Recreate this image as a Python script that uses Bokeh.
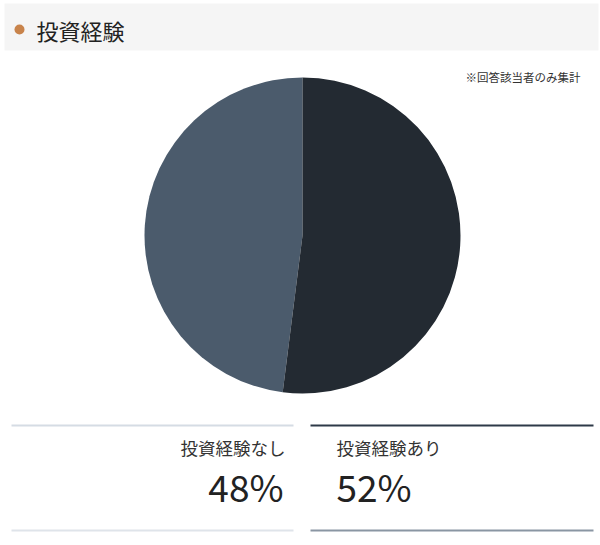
from bokeh.plotting import figure
from bokeh.models import ColumnDataSource, Range1d
from bokeh.core.properties import value
from bokeh.embed import file_html
from bokeh.resources import INLINE
import math

# data
labels = ["投資経験なし", "投資経験あり"]
shares = [48, 52]
colors = ["#4b5b6c", "#232a32"]
title_text = "投資経験"
note_text = "※回答該当者のみ集計"

FONT = value("Noto Sans CJK JP")
W, H = 600, 545


def fx(x):
    return x


def fy(y):
    return H - y


# slices go clockwise from 12 o'clock, "あり" first
total = float(sum(shares))
ends, starts = [], []
a = math.pi / 2
for s in reversed(shares):
    ends.append(a)
    a -= s / total * 2 * math.pi
    starts.append(a)
ends.reverse()
starts.reverse()

pie_src = ColumnDataSource(dict(label=labels, share=shares, color=colors,
                                start=starts, end=ends))

p = figure(width=W, height=H, output_backend="svg", toolbar_location=None,
           x_range=Range1d(0, W), y_range=Range1d(0, H),
           x_axis_location=None, y_axis_location=None, min_border=0)
p.outline_line_color = None
p.grid.visible = False
p.background_fill_color = "white"
p.border_fill_color = "white"

# header band
p.quad(left=fx(4), right=fx(598), bottom=fy(50), top=fy(3),
       fill_color="#f5f5f5", line_color=None)
p.scatter(x=fx(19), y=fy(29), size=10, fill_color="#c8834b", line_color=None)
p.text(x=fx(36), y=fy(29), text=[title_text], text_font=FONT, text_font_size="22px",
       text_color="#222222", text_baseline="middle", text_align="left")

p.text(x=fx(580), y=fy(76), text=[note_text], text_font=FONT, text_font_size="11.5px",
       text_color="#333333", text_baseline="middle", text_align="right")

# pie
p.wedge(x=fx(302), y=fy(235), radius=158, start_angle="start", end_angle="end",
        fill_color="color", line_color=None, source=pie_src)

# legend boxes
box_left = [fx(11), fx(310)]
box_right = [fx(293), fx(593)]
top_line = ["#d5dce4", "#2e3a48"]
bottom_line = ["#dfe4ea", "#8a96a3"]
leg_src = ColumnDataSource(dict(x0=box_left, x1=box_right, top=top_line, bot=bottom_line))
p.segment(x0="x0", x1="x1", y0=fy(425), y1=fy(425), line_color="top",
          line_width=2, source=leg_src)
p.segment(x0="x0", x1="x1", y0=fy(530), y1=fy(530), line_color="bot",
          line_width=2, source=leg_src)

pct = [f"{s}%" for s in shares]
txt_src = ColumnDataSource(dict(x=[fx(285), fx(336)], px=[fx(283), fx(336)],
                                label=labels, pct=pct, align=["right", "left"]))
p.text(x="x", y=fy(447), text="label", text_align="align", source=txt_src,
       text_font=FONT, text_font_size="17.5px", text_color="#333333",
       text_baseline="middle")
p.text(x="px", y=fy(485), text="pct", text_align="align", source=txt_src,
       text_font=FONT, text_font_size="37px", text_color="#222222",
       text_baseline="alphabetic")

open("out.html", "w").write(file_html(p, INLINE))
